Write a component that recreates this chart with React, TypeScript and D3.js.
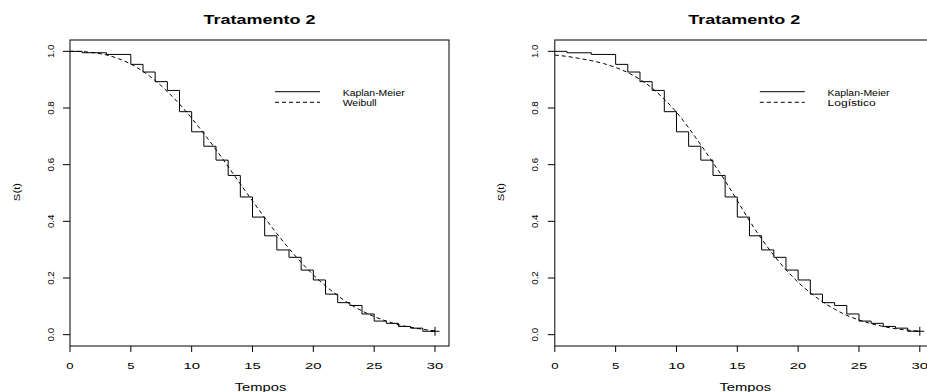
import React from "react";
import * as d3 from "d3";

// Kaplan-Meier estimate (Tratamento 2)
const kmTimes = [0, 1, 3, 5, 6, 7, 8, 9, 10, 11, 12, 13, 14, 15, 16, 17, 18, 19, 20, 21, 22, 23, 24, 25, 26, 27, 28, 29, 30];
const kmSurv = [1.0, 0.995, 0.989, 0.954, 0.927, 0.893, 0.862, 0.787, 0.716, 0.665, 0.616, 0.562, 0.486, 0.415, 0.349, 0.299, 0.273, 0.228, 0.193, 0.143, 0.113, 0.103, 0.073, 0.048, 0.040, 0.029, 0.023, 0.012, 0.012];
const censorTime = 30;
const censorSurv = 0.012;

// fitted curves, read at integer times
const fitTimes = [0, 1, 2, 3, 4, 5, 6, 7, 8, 9, 10, 11, 12, 13, 14, 15, 16, 17, 18, 19, 20, 21, 22, 23, 24, 25, 26, 27, 28, 29, 30];
const weibullSurv = [1.0, 0.999, 0.995, 0.987, 0.974, 0.955, 0.929, 0.897, 0.858, 0.814, 0.764, 0.710, 0.653, 0.593, 0.532, 0.472, 0.413, 0.357, 0.304, 0.255, 0.211, 0.172, 0.138, 0.108, 0.084, 0.064, 0.048, 0.035, 0.026, 0.019, 0.013];
const logisticSurv = [0.987, 0.982, 0.975, 0.967, 0.957, 0.943, 0.925, 0.901, 0.870, 0.831, 0.785, 0.730, 0.670, 0.607, 0.543, 0.473, 0.402, 0.338, 0.280, 0.229, 0.185, 0.148, 0.116, 0.090, 0.068, 0.052, 0.039, 0.029, 0.021, 0.016, 0.012];

const xTicks = [0, 5, 10, 15, 20, 25, 30];
const yTicks = [0, 0.2, 0.4, 0.6, 0.8, 1.0];
const yTickLabels = ["0.0", "0.2", "0.4", "0.6", "0.8", "1.0"];

const titleText = "Tratamento 2";
const xLabel = "Tempos";
const yLabel = "S(t)";
const kmLabel = "Kaplan-Meier";

const FONT = "'Liberation Sans', Arial, Helvetica, sans-serif";

type PanelProps = { dx: number; fit: number[]; fitLabel: string; fitLabelLen: number };

function Panel({ dx, fit, fitLabel, fitLabelLen }: PanelProps) {
  const left = 70 + dx, right = 449 + dx, top = 40, bottom = 346;
  const x = d3.scaleLinear().domain([0, 31.15]).range([left, right]);
  const y = d3.scaleLinear().domain([-0.04, 1.04]).range([bottom, top]);

  const km = d3.line<number>().x((_, i) => x(kmTimes[i])).y((d) => y(d)).curve(d3.curveStepAfter);
  const fl = d3.line<number>().x((_, i) => x(fitTimes[i])).y((d) => y(d)).curve(d3.curveMonotoneX);

  const cx = x(censorTime), cy = y(censorSurv);
  const midX = (left + right) / 2;

  return (
    <g>
      <text x={midX} y={23.5} textAnchor="middle" fontFamily={FONT} fontWeight="bold" fontSize={12}
        textLength={112} lengthAdjust="spacingAndGlyphs">{titleText}</text>
      <rect x={left} y={top} width={right - left} height={bottom - top} fill="none" stroke="#000" strokeWidth={1} />
      {yTicks.map((t, i) => (
        <g key={"y" + i}>
          <line x1={left} x2={left - 7} y1={y(t)} y2={y(t)} stroke="#000" strokeWidth={1} />
          <text transform={`translate(${left - 16.5},${y(t)}) rotate(-90)`} textAnchor="middle" fontFamily={FONT}
            fontSize={9.5} textLength={13.5} lengthAdjust="spacingAndGlyphs">{yTickLabels[i]}</text>
        </g>
      ))}
      {xTicks.map((t, i) => (
        <g key={"x" + i}>
          <line x1={x(t)} x2={x(t)} y1={bottom} y2={bottom + 6} stroke="#000" strokeWidth={1} />
          <text x={x(t)} y={368.8} textAnchor="middle" fontFamily={FONT} fontSize={8.8}
            textLength={String(t).length > 1 ? 16.5 : 7.3} lengthAdjust="spacingAndGlyphs">{String(t)}</text>
        </g>
      ))}
      <text x={midX + 1} y={390.5} textAnchor="middle" fontFamily={FONT} fontSize={10.2}
        textLength={51.7} lengthAdjust="spacingAndGlyphs">{xLabel}</text>
      <text transform={`translate(${19.5 + dx},192) rotate(-90)`} textAnchor="middle" fontFamily={FONT} fontSize={9.5}
        textLength={18.3} lengthAdjust="spacingAndGlyphs">{yLabel}</text>

      <path d={km(kmSurv) || ""} fill="none" stroke="#000" strokeWidth={1} />
      <path d={fl(fit) || ""} fill="none" stroke="#000" strokeWidth={1} strokeDasharray="4,3" />
      <line x1={cx - 4.5} x2={cx + 4.5} y1={cy} y2={cy} stroke="#000" strokeWidth={1} />
      <line x1={cx} x2={cx} y1={cy - 4.5} y2={cy + 4.5} stroke="#000" strokeWidth={1} />

      <line x1={275 + dx} x2={320 + dx} y1={91.7} y2={91.7} stroke="#000" strokeWidth={1} />
      <line x1={275 + dx} x2={320 + dx} y1={102.3} y2={102.3} stroke="#000" strokeWidth={1} strokeDasharray="4,3" />
      <text x={342.7 + dx} y={95.5} fontFamily={FONT} fontSize={8.5} textLength={62} lengthAdjust="spacingAndGlyphs">{kmLabel}</text>
      <text x={342.7 + dx} y={106.3} fontFamily={FONT} fontSize={8.5} textLength={fitLabelLen} lengthAdjust="spacingAndGlyphs">{fitLabel}</text>
    </g>
  );
}

export default function App() {
  return (
    <svg width={927} height={392} style={{ position: "absolute", left: 0, top: 0, background: "#fff" }}>
      <rect x={0} y={0} width={927} height={392} fill="#fff" />
      <Panel dx={0} fit={weibullSurv} fitLabel="Weibull" fitLabelLen={34} />
      <Panel dx={484.8} fit={logisticSurv} fitLabel="Logístico" fitLabelLen={48.3} />
    </svg>
  );
}
